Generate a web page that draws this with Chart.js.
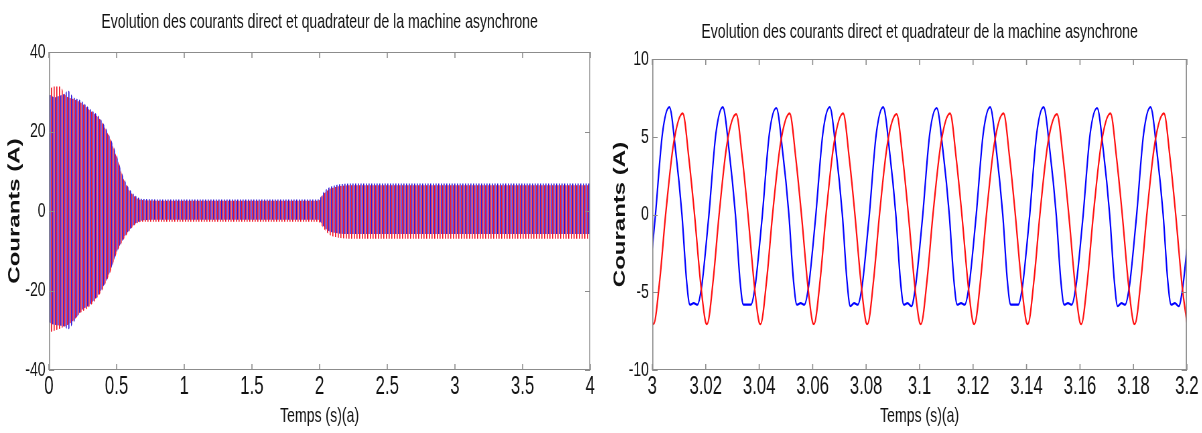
<!DOCTYPE html>
<html lang="fr">
<head>
<meta charset="utf-8">
<script src="https://cdn.jsdelivr.net/npm/chart.js@4.4.1/dist/chart.umd.min.js"></script>
<style>
html, body { margin:0; padding:0; background:#fff; }
body { width:1202px; height:433px; position:relative; overflow:hidden; }
/* la figure d'origine est compressee horizontalement */
.panneau { position:absolute; top:0; transform-origin:0 0; transform:scaleX(0.67); }
.panneau canvas { display:block; }
#gauche { left:0; }
#droite { left:600px; }
</style>
</head>
<body>
<div class="panneau" id="gauche"><canvas id="courbeGauche" width="896" height="433"></canvas></div>
<div class="panneau" id="droite"><canvas id="courbeDroite" width="899" height="433"></canvas></div>
<script>
const titre = "Evolution des courants direct et quadrateur de la machine asynchrone";
const titreX = "Temps (s)(a)";
const titreY = "Courants (A)";

// Vue globale 0 - 4 s : enveloppes des courants
const tGlobal = [0, 0.01, 0.04, 0.08, 0.12, 0.14, 0.18, 0.23, 0.30, 0.38, 0.45, 0.50, 0.55, 0.60, 0.65,
                 0.70, 0.80, 1.0, 1.5, 1.99, 2.03, 2.07, 2.11, 2.15, 2.22, 2.3, 2.5, 3.0, 3.5, 4.0];
const bleuHaut = [29, 29.2, 28.6, 29.0, 29.6, 30.3, 28.6, 27.9, 25.8, 23.3, 18.7, 14.1, 8.6, 5.3, 3.6,
                  3.0, 2.9, 2.9, 2.9, 2.9, 4.8, 5.9, 6.4, 6.7, 6.9, 6.9, 6.9, 6.9, 6.9, 6.9];
const bleuBas = [-27.5, -28.2, -28.6, -28.8, -29.2, -29.8, -28.2, -25.4, -23.6, -20.3, -15.4, -10.4, -7.0, -4.5, -2.9,
                 -2.3, -2.2, -2.2, -2.2, -2.2, -3.9, -5.1, -5.5, -5.7, -5.8, -5.8, -5.8, -5.8, -5.8, -5.8];
const rougeHaut = [27.5, 30.6, 31.3, 31.3, 29.2, 28.6, 28.2, 27.4, 25.4, 22.9, 18.3, 13.6, 8.2, 4.9, 3.2,
                   2.7, 2.6, 2.6, 2.6, 2.6, 4.3, 5.5, 6.0, 6.3, 6.5, 6.5, 6.5, 6.5, 6.5, 6.5];
const rougeBas = [-32.0, -30.6, -30.1, -29.6, -29.0, -28.6, -27.6, -25.7, -24.0, -20.7, -15.7, -10.6, -7.3, -4.8, -3.1,
                  -2.7, -2.7, -2.7, -2.7, -2.7, -4.4, -5.9, -6.5, -6.8, -7.0, -7.0, -7.0, -7.0, -7.0, -7.0];
const ticksXGlobal = [0, 0.5, 1, 1.5, 2, 2.5, 3, 3.5, 4];
const labelsXGlobal = ['0', '0.5', '1', '1.5', '2', '2.5', '3', '3.5', '4'];
const ticksYGlobal = [-40, -20, 0, 20, 40];

// Zoom 3 - 3.2 s
const tBleu = [
  3.0000, 3.0012, 3.0038, 3.0064, 3.0088, 3.0111, 3.0128, 3.0141, 3.0155, 3.0169, 3.0185,
  3.0200, 3.0212, 3.0238, 3.0264, 3.0288, 3.0311, 3.0328, 3.0341, 3.0355, 3.0369, 3.0385,
  3.0400, 3.0412, 3.0438, 3.0464, 3.0488, 3.0511, 3.0528, 3.0541, 3.0555, 3.0569, 3.0585,
  3.0600, 3.0612, 3.0638, 3.0664, 3.0688, 3.0711, 3.0728, 3.0741, 3.0755, 3.0769, 3.0785,
  3.0800, 3.0812, 3.0838, 3.0864, 3.0888, 3.0911, 3.0928, 3.0941, 3.0955, 3.0969, 3.0985,
  3.1000, 3.1012, 3.1038, 3.1064, 3.1088, 3.1111, 3.1128, 3.1141, 3.1155, 3.1169, 3.1185,
  3.1200, 3.1212, 3.1238, 3.1264, 3.1288, 3.1311, 3.1328, 3.1341, 3.1355, 3.1369, 3.1385,
  3.1400, 3.1412, 3.1438, 3.1464, 3.1488, 3.1511, 3.1528, 3.1541, 3.1555, 3.1569, 3.1585,
  3.1600, 3.1612, 3.1638, 3.1664, 3.1688, 3.1711, 3.1728, 3.1741, 3.1755, 3.1769, 3.1785,
  3.1800, 3.1812, 3.1838, 3.1864, 3.1888, 3.1911, 3.1928, 3.1941, 3.1955, 3.1969, 3.1985,
  3.2000];
const iBleu = [
  -2.2, 0.0, 5.2, 6.9, 4.0, 0.0, -4.2, -5.8, -5.7, -5.8, -4.6,
  -2.2, 0.0, 5.2, 6.9, 4.0, 0.0, -4.2, -5.8, -5.8, -5.8, -4.6,
  -2.2, 0.0, 5.2, 6.85, 4.0, 0.0, -4.2, -5.8, -5.7, -5.8, -4.6,
  -2.2, 0.0, 5.2, 6.9, 4.0, 0.0, -4.2, -5.9, -5.7, -5.8, -4.6,
  -2.2, 0.0, 5.2, 6.9, 4.0, 0.0, -4.2, -5.8, -5.7, -5.9, -4.6,
  -2.2, 0.0, 5.2, 6.85, 4.0, 0.0, -4.2, -5.8, -5.7, -5.8, -4.6,
  -2.2, 0.0, 5.2, 6.9, 4.0, 0.0, -4.2, -5.8, -5.8, -5.8, -4.6,
  -2.2, 0.0, 5.2, 6.9, 4.0, 0.0, -4.2, -5.8, -5.7, -5.8, -4.6,
  -2.2, 0.0, 5.2, 6.85, 4.0, 0.0, -4.2, -5.9, -5.7, -5.8, -4.6,
  -2.2, 0.0, 5.2, 6.9, 4.0, 0.0, -4.2, -5.8, -5.7, -5.9, -4.6,
  -2.2];
const tRouge = [
  3.0000, 3.0005, 3.0028, 3.0050, 3.0080, 3.0114, 3.0137, 3.0158, 3.0182,
  3.0200, 3.0205, 3.0228, 3.0250, 3.0280, 3.0314, 3.0337, 3.0358, 3.0382,
  3.0400, 3.0405, 3.0428, 3.0450, 3.0480, 3.0514, 3.0537, 3.0558, 3.0582,
  3.0600, 3.0605, 3.0628, 3.0650, 3.0680, 3.0714, 3.0737, 3.0758, 3.0782,
  3.0800, 3.0805, 3.0828, 3.0850, 3.0880, 3.0914, 3.0937, 3.0958, 3.0982,
  3.1000, 3.1005, 3.1028, 3.1050, 3.1080, 3.1114, 3.1137, 3.1158, 3.1182,
  3.1200, 3.1205, 3.1228, 3.1250, 3.1280, 3.1314, 3.1337, 3.1358, 3.1382,
  3.1400, 3.1405, 3.1428, 3.1450, 3.1480, 3.1514, 3.1537, 3.1558, 3.1582,
  3.1600, 3.1605, 3.1628, 3.1650, 3.1680, 3.1714, 3.1737, 3.1758, 3.1782,
  3.1800, 3.1805, 3.1828, 3.1850, 3.1880, 3.1914, 3.1937, 3.1958, 3.1982,
  3.2000];
const iRouge = [
  -6.95, -7.05, -4.2, 0.0, 4.6, 6.5, 3.6, 0.0, -4.6,
  -6.95, -7.05, -4.2, 0.0, 4.6, 6.45, 3.6, 0.0, -4.6,
  -6.95, -7.05, -4.2, 0.0, 4.6, 6.5, 3.6, 0.0, -4.6,
  -6.95, -7.05, -4.2, 0.0, 4.6, 6.5, 3.6, 0.0, -4.6,
  -6.95, -7.05, -4.2, 0.0, 4.6, 6.45, 3.6, 0.0, -4.6,
  -6.95, -7.05, -4.2, 0.0, 4.6, 6.5, 3.6, 0.0, -4.6,
  -6.95, -7.05, -4.2, 0.0, 4.6, 6.5, 3.6, 0.0, -4.6,
  -6.95, -7.05, -4.2, 0.0, 4.6, 6.45, 3.6, 0.0, -4.6,
  -6.95, -7.05, -4.2, 0.0, 4.6, 6.5, 3.6, 0.0, -4.6,
  -6.95, -7.05, -4.2, 0.0, 4.6, 6.5, 3.6, 0.0, -4.6,
  -6.95];
const ticksXZoom = [3, 3.02, 3.04, 3.06, 3.08, 3.1, 3.12, 3.14, 3.16, 3.18, 3.2];
const labelsXZoom = ['3', '3.02', '3.04', '3.06', '3.08', '3.1', '3.12', '3.14', '3.16', '3.18', '3.2'];
const ticksYZoom = [-10, -5, 0, 5, 10];

const police = '"Liberation Sans", Arial, sans-serif';
Chart.defaults.font.family = police;
Chart.defaults.color = '#111';

// hachures verticales pour imiter les oscillations tres serrees
function motif(couleurs) {
    const c = document.createElement('canvas');
    c.width = couleurs.length; c.height = 1;
    const g = c.getContext('2d');
    couleurs.forEach((col, i) => { g.fillStyle = col; g.fillRect(i, 0, 1, 1); });
    return g.createPattern(c, 'repeat');
}

function points(t, v) {
    return t.map((x, i) => ({x: x, y: v[i]}));
}

// cadre, graduations interieures et titre
const cadre = {
    id: 'cadre',
    afterDraw(chart, args, opts) {
        const ctx = chart.ctx, a = chart.chartArea;
        const sx = chart.scales.x, sy = chart.scales.y;
        ctx.save();
        ctx.strokeStyle = '#8c8c8c';
        ctx.lineWidth = 1;
        ctx.beginPath();
        ctx.moveTo(a.left, a.top + 0.5); ctx.lineTo(a.right, a.top + 0.5);
        ctx.moveTo(a.left, a.bottom - 0.5); ctx.lineTo(a.right, a.bottom - 0.5);
        opts.ticksY.forEach(v => {
            const p = Math.round(sy.getPixelForValue(v)) + 0.5;
            ctx.moveTo(a.left, p); ctx.lineTo(a.left + 8, p);
            ctx.moveTo(a.right, p); ctx.lineTo(a.right - 8, p);
        });
        ctx.stroke();
        ctx.lineWidth = 1.6;
        ctx.beginPath();
        ctx.moveTo(a.left + 0.8, a.top); ctx.lineTo(a.left + 0.8, a.bottom);
        ctx.moveTo(a.right - 0.8, a.top); ctx.lineTo(a.right - 0.8, a.bottom);
        opts.ticksX.forEach(v => {
            const p = sx.getPixelForValue(v);
            ctx.moveTo(p, a.top); ctx.lineTo(p, a.top + 6);
            ctx.moveTo(p, a.bottom); ctx.lineTo(p, a.bottom - 6);
        });
        ctx.stroke();
        ctx.fillStyle = '#111';
        ctx.font = '21px ' + police;
        ctx.textAlign = 'center';
        ctx.textBaseline = 'middle';
        ctx.fillText(opts.titre, (a.left + a.right) / 2, opts.yTitre);
        ctx.restore();
    }
};

function options(xMin, xMax, yMin, yMax, ticksX, labelsX, ticksY, largeurY, padDroite, padHaut, padTitreY, yTitre) {
    return {
        responsive: false,
        animation: false,
        layout: { padding: { left: 0, right: padDroite, top: padHaut, bottom: 0 } },
        plugins: {
            legend: { display: false },
            tooltip: { enabled: false },
            cadre: { titre: titre, yTitre: yTitre, ticksX: ticksX, ticksY: ticksY }
        },
        scales: {
            x: {
                type: 'linear', min: xMin, max: xMax,
                afterBuildTicks: s => { s.ticks = ticksX.map(v => ({value: v})); },
                afterFit: s => { s.height = 63; },
                grid: { display: false, drawTicks: false },
                border: { display: false },
                ticks: { autoSkip: false, maxRotation: 0, padding: 2, font: { size: 25 },
                         callback: (v, i) => labelsX[i] },
                title: { display: true, text: titreX, font: { size: 21 }, padding: { top: 0, bottom: 4 } }
            },
            y: {
                min: yMin, max: yMax,
                afterBuildTicks: s => { s.ticks = ticksY.map(v => ({value: v})); },
                afterFit: s => { s.width = largeurY; },
                grid: { display: false, drawTicks: false },
                border: { display: false },
                ticks: { padding: 5, font: { size: 21 }, callback: v => String(v) },
                title: { display: true, text: titreY, font: { size: 24, weight: 'bold' },
                         padding: { top: padTitreY, bottom: 0 } }
            }
        }
    };
}

const ctxGauche = document.getElementById('courbeGauche').getContext('2d');
const motifRouge = motif(['#f01020', 'rgba(240,16,32,0.6)', 'rgba(0,0,0,0)', 'rgba(0,0,0,0)']);
const motifBleu = motif(['rgba(0,0,0,0)', 'rgba(0,0,0,0)', '#2a14d8', 'rgba(42,20,216,0.6)']);
new Chart(ctxGauche, {
    type: 'line',
    data: {
        datasets: [
            { data: points(tGlobal, rougeHaut), fill: '+1', backgroundColor: motifRouge },
            { data: points(tGlobal, rougeBas), fill: false },
            { data: points(tGlobal, bleuHaut), fill: '+1', backgroundColor: motifBleu },
            { data: points(tGlobal, bleuBas), fill: false }
        ].map(d => Object.assign(d, { borderWidth: 0, borderColor: 'rgba(0,0,0,0)', pointRadius: 0,
                                      cubicInterpolationMode: 'monotone' }))
    },
    options: options(0, 4, -40, 40, ticksXGlobal, labelsXGlobal, ticksYGlobal, 73, 15, 52, 8, 22),
    plugins: [cadre]
});

const ctxDroite = document.getElementById('courbeDroite').getContext('2d');
new Chart(ctxDroite, {
    type: 'line',
    data: {
        datasets: [
            { data: points(tRouge, iRouge), borderColor: '#ff1010' },
            { data: points(tBleu, iBleu), borderColor: '#0000ff' }
        ].map(d => Object.assign(d, { borderWidth: 2.2, pointRadius: 0, fill: false,
                                      cubicInterpolationMode: 'monotone' }))
    },
    options: options(3, 3.2, -10, 10, ticksXZoom, labelsXZoom, ticksYZoom, 78, 23, 59, 16, 32),
    plugins: [cadre]
});
</script>
</body>
</html>
